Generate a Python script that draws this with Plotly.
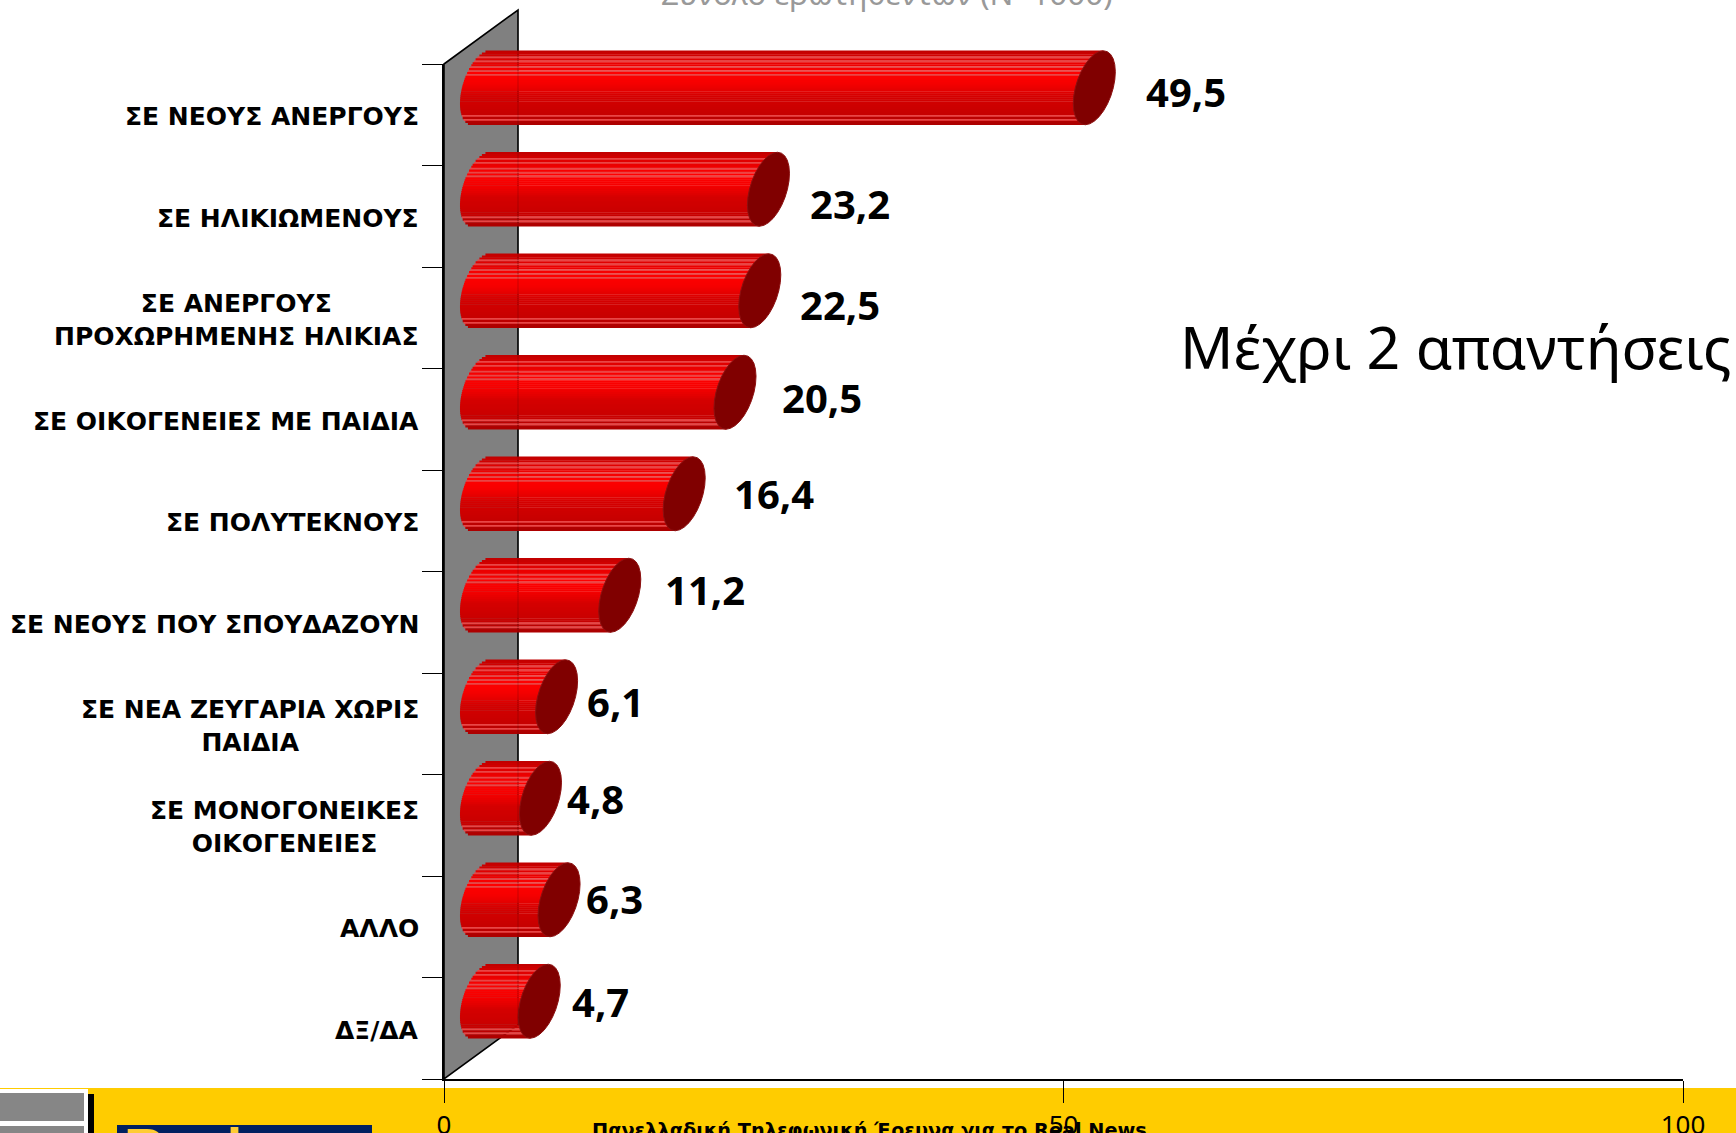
import math
import plotly.graph_objects as go

categories = ["ΣΕ ΝΕΟΥΣ ΑΝΕΡΓΟΥΣ", "ΣΕ ΗΛΙΚΙΩΜΕΝΟΥΣ", "ΣΕ ΑΝΕΡΓΟΥΣ<br>ΠΡΟΧΩΡΗΜΕΝΗΣ ΗΛΙΚΙΑΣ",
              "ΣΕ ΟΙΚΟΓΕΝΕΙΕΣ ΜΕ ΠΑΙΔΙΑ", "ΣΕ ΠΟΛΥΤΕΚΝΟΥΣ", "ΣΕ ΝΕΟΥΣ ΠΟΥ ΣΠΟΥΔΑΖΟΥΝ",
              "ΣΕ ΝΕΑ ΖΕΥΓΑΡΙΑ ΧΩΡΙΣ<br>ΠΑΙΔΙΑ", "ΣΕ ΜΟΝΟΓΟΝΕΙΚΕΣ<br>ΟΙΚΟΓΕΝΕΙΕΣ", "ΑΛΛΟ", "ΔΞ/ΔΑ"]
values = [49.5, 23.2, 22.5, 20.5, 16.4, 11.2, 6.1, 4.8, 6.3, 4.7]
value_text = ["49,5", "23,2", "22,5", "20,5", "16,4", "11,2", "6,1", "4,8", "6,3", "4,7"]

# layout constants (pixels)
W, H = 1736, 1133
PX_X = (1683 - 444) / 100
PX_Y = (1079 - 64) / 10
DEPTH_X, DEPTH_Y = 37, 27
label_dx = [92, 82, 80, 87, 90, 85, 59, 55, 55, 61]
label_dy = [4, 14, 14, 5, 0, -6, 5, 0, -1, 0]

BOLD = "Noto Sans"
VERD = "DejaVu Sans"

def px(x): return x / W
def py(y): return 1 - y / H

# cylinder cross-section in data units
a = 19 / PX_X
s = 9 / PX_X
h = 37 / PX_Y

N = 38
stops = [(0.0, (190, 0, 0)), (0.12, (225, 0, 0)), (0.3, (255, 0, 0)), (0.45, (245, 0, 0)),
         (0.62, (212, 0, 0)), (0.85, (200, 0, 0)), (1.0, (170, 0, 0))]

def color(t):
    for (t0, c0), (t1, c1) in zip(stops, stops[1:]):
        if t <= t1:
            f = (t - t0) / (t1 - t0)
            return "rgb(%d,%d,%d)" % tuple(round(p + (q - p) * f) for p, q in zip(c0, c1))
    return "rgb(170,0,0)"

fig = go.Figure()
light = {3, 5, 8, 10, 12, 33, 35}
for k in range(N):
    t = (k + 0.5) / N
    d = 1 - 2 * t
    half = a * math.sqrt(max(0, 1 - d * d))
    xs, ys = [], []
    for i, v in enumerate(values):
        xs += [s * d - half, v + s * d, None]
        ys += [i - d * h, i - d * h, None]
    c = "rgb(232,70,70)" if k in light else color(t)
    fig.add_trace(go.Scatter(x=xs, y=ys, mode="lines", xaxis="x2", yaxis="y2", showlegend=False,
                             hoverinfo="skip", line=dict(color=c, width=2.4 if k not in light else 2)))

for i, v in enumerate(values):
    ts = [2 * math.pi * j / 28 for j in range(29)]
    fig.add_trace(go.Scatter(x=[v + a * math.cos(q) + s * math.sin(q) for q in ts],
                             y=[i - h * math.sin(q) for q in ts],
                             mode="lines", fill="toself", fillcolor="#800000", xaxis="x2", yaxis="y2",
                             showlegend=False, hoverinfo="skip", line=dict(color="#8c1010", width=1)))

annotations = []
for i, c in enumerate(categories):
    annotations.append(dict(x=px(421), xref="paper", y=i, yref="y", text="<b>%s</b>" % c, showarrow=False,
                            xanchor="right", align="center", yanchor="middle", yshift=-2,
                            font=dict(family=VERD, size=25, color="black")))
for i, (v, t) in enumerate(zip(values, value_text)):
    annotations.append(dict(x=v, xref="x2", y=i, yref="y2", text="<b>%s</b>" % t, showarrow=False,
                            xanchor="center", yanchor="middle", xshift=label_dx[i], yshift=-label_dy[i],
                            font=dict(family=BOLD, size=40, color="black")))
annotations += [
    dict(x=px(1455), y=py(346), xref="paper", yref="paper", text="Μέχρι 2 απαντήσεις", showarrow=False,
         xanchor="center", yanchor="middle", font=dict(family=BOLD, size=59, color="black")),
    dict(x=px(887), y=py(-8), xref="paper", yref="paper", text="Σύνολο ερωτηθέντων (Ν=1000)", showarrow=False,
         xanchor="center", yanchor="middle", font=dict(family=BOLD, size=31.4, color="#999999")),
    dict(x=px(869), y=py(1130.5), xref="paper", yref="paper", text="<b>Πανελλαδική Τηλεφωνική Έρευνα για το Real News</b>",
         showarrow=False, xanchor="center", yanchor="middle", font=dict(family=VERD, size=19.3, color="black")),
    dict(x=px(122), y=py(1147), xref="paper", yref="paper", text="<b>Real</b>",
         showarrow=False, xanchor="left", yanchor="middle", font=dict(family="Liberation Sans", size=56, color="#ffcc33")),
]

shapes = [
    dict(type="rect", xref="paper", yref="paper", x0=0, x1=1, y0=py(H), y1=py(1088), fillcolor="#ffcc00",
         line_width=0, layer="below"),
    dict(type="rect", xref="paper", yref="paper", x0=0, x1=px(88), y0=py(H), y1=py(1089), fillcolor="white",
         line_width=0, layer="below"),
    dict(type="rect", xref="paper", yref="paper", x0=0, x1=px(84), y0=py(1121), y1=py(1093), fillcolor="#868686",
         line_width=0, layer="below"),
    dict(type="rect", xref="paper", yref="paper", x0=0, x1=px(84), y0=py(H), y1=py(1126), fillcolor="#868686",
         line_width=0, layer="below"),
    dict(type="rect", xref="paper", yref="paper", x0=px(88), x1=px(94), y0=py(H), y1=py(1094), fillcolor="black",
         line_width=0, layer="below"),
    dict(type="rect", xref="paper", yref="paper", x0=px(117), x1=px(372), y0=py(H), y1=py(1125), fillcolor="#002060",
         line_width=0, layer="below"),
    dict(type="path", xref="paper", yref="paper",
         path="M %f %f L %f %f L %f %f L %f %f Z" % (px(444), py(64), px(518), py(10), px(518), py(1025), px(444), py(1079)),
         fillcolor="#808080", line=dict(color="black", width=1.6), layer="below"),
    dict(type="line", xref="paper", yref="paper", x0=px(518), x1=px(518), y0=py(1025), y1=py(10),
         line=dict(color="rgba(0,0,0,0.18)", width=1), layer="above"),
]

# bar axes: shifted by the chart's depth, with extra room left of zero for the rounded back of the cylinders
PAD_X = 10
fig.update_layout(
    width=W, height=H, margin=dict(l=0, r=0, t=0, b=0, autoexpand=False), paper_bgcolor="white",
    plot_bgcolor="rgba(0,0,0,0)", showlegend=False, annotations=annotations, shapes=shapes,
    xaxis=dict(domain=[px(444), px(1683)], range=[0, 100], tickvals=[0, 50, 100], ticktext=["0", "50", "100"],
               ticks="outside", ticklen=22, tickcolor="black", tickwidth=1, showgrid=False, zeroline=False,
               showline=True, linecolor="black", linewidth=2, anchor="y", automargin=False,
               tickfont=dict(family=BOLD, size=26, color="black")),
    yaxis=dict(domain=[py(1079), py(64)], range=[9.5, -0.5], tickvals=[i - 0.5 for i in range(11)],
               ticktext=[""] * 11, ticks="outside", ticklen=20, tickcolor="black", tickwidth=1, showgrid=False,
               zeroline=False, showline=True, linecolor="black", linewidth=2, anchor="x", automargin=False),
    xaxis2=dict(domain=[px(444 + DEPTH_X - PAD_X * PX_X), px(1683 + DEPTH_X)], range=[-PAD_X, 100], visible=False,
                anchor="y2", automargin=False),
    yaxis2=dict(domain=[py(1079 - DEPTH_Y), py(64 - DEPTH_Y)], range=[9.5, -0.5], visible=False, anchor="x2",
                automargin=False),
)
fig.write_html("out.html", config=dict(displayModeBar=False),
               post_script="document.body.style.margin='0';document.body.style.overflow='hidden';")
